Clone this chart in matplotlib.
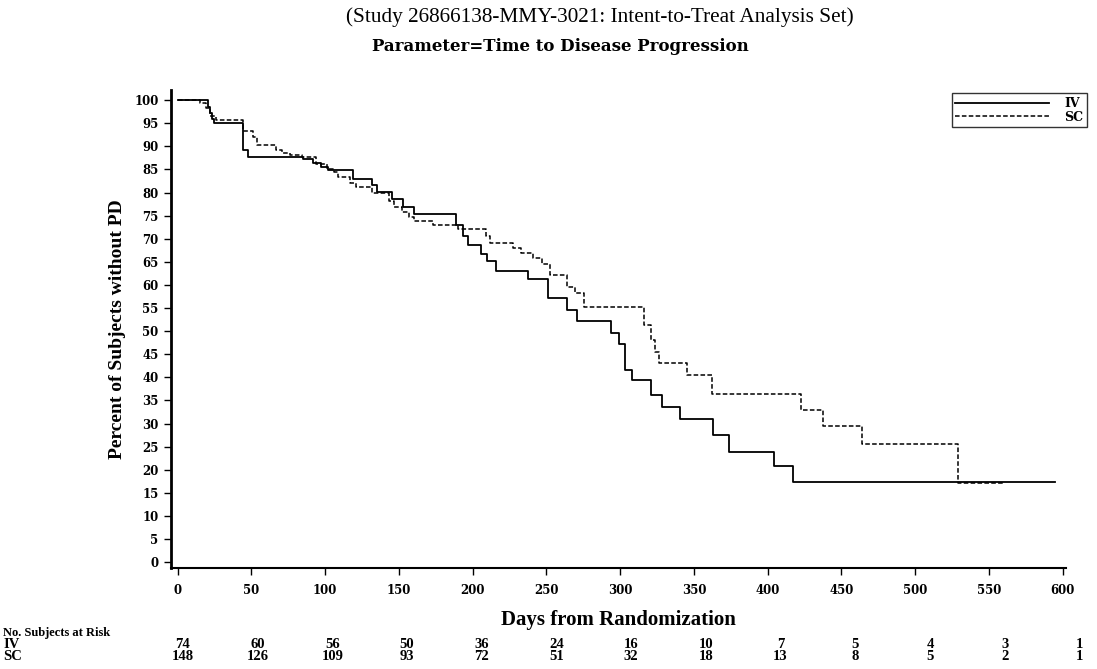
import matplotlib
matplotlib.use('Agg')
import matplotlib.pyplot as plt
import numpy as np

plt.rcParams['font.family'] = ['Liberation Serif', 'DejaVu Serif']
WIDE = ['DejaVu Serif']

# Kaplan-Meier step data (days, percent without PD)
iv_days = [0, 20.5, 22, 23, 24.4, 44, 48, 85, 92, 97, 102, 119, 132, 135, 145.5, 153,
           160.5, 188.7, 193.6, 197, 205.4, 209.5, 216, 237.7, 251, 263.7, 271, 293.5,
           299.4, 303, 308, 321, 328.5, 340.5, 363, 374, 404.5, 417.4, 595]
iv_pct = [100, 98.6, 97.3, 96, 95, 89.2, 87.6, 87.3, 86.4, 85.6, 84.8, 83.0, 81.6, 80.2,
          78.7, 76.9, 75.4, 72.9, 70.6, 68.6, 66.8, 65.2, 63.1, 61.2, 57.1, 54.5, 52.2,
          49.5, 47.3, 41.7, 39.4, 36.1, 33.6, 31.0, 27.5, 23.9, 20.8, 17.4, 17.4]

sc_days = [0, 15, 19, 22, 26, 44, 51, 54, 66.6, 70.5, 76, 84, 94, 101, 106, 109, 117, 121,
           131.5, 143, 147, 152, 157, 160, 173.3, 190, 209, 211.7, 227.5, 233, 241, 246.8,
           252.4, 263.7, 269.4, 275.5, 316, 321, 323.5, 326, 345, 362.5, 422.4, 437.3,
           464, 529, 561]
sc_pct = [100, 99.3, 98.2, 96.5, 95.8, 93.4, 92.1, 90.3, 89.3, 88.5, 88.1, 87.6, 86.1, 85.2,
          84.5, 83.4, 82.0, 81.1, 79.8, 78.2, 76.9, 75.8, 74.7, 73.9, 72.9, 72.2, 70.6, 69.1,
          68.1, 66.9, 65.9, 64.6, 62.1, 59.6, 58.2, 55.3, 51.3, 48.0, 45.5, 43.0, 40.5, 36.3,
          33.0, 29.4, 25.5, 17.2, 17.2]

risk_days = [0, 50, 100, 150, 200, 250, 300, 350, 400, 450, 500, 550, 600]
iv_risk = [74, 60, 56, 50, 36, 24, 16, 10, 7, 5, 4, 3, 1]
sc_risk = [148, 126, 109, 93, 72, 51, 32, 18, 13, 8, 5, 2, 1]

fig = plt.figure(figsize=(10.97, 6.69), dpi=100)
ax = fig.add_axes([0.1559, 0.1514, 0.8158, 0.7141])

ax.plot(iv_days, iv_pct, drawstyle='steps-post', color='black', lw=1.3, label='IV')
ax.plot(sc_days, sc_pct, drawstyle='steps-post', color='black', lw=1.1,
        linestyle=(0, (3, 1.5)), label='SC')

ax.set_xlim(-4.5, 602.2)
ax.set_ylim(-1.2, 102.2)
ax.set_xticks(range(0, 601, 50))
ax.set_yticks(range(0, 101, 5))
for lab in ax.get_xticklabels() + ax.get_yticklabels():
    lab.set_fontweight('bold')
    lab.set_fontsize(8.5)
    lab.set_family(WIDE)
ax.tick_params(axis='both', direction='out', length=5, width=1, pad=4)
ax.tick_params(axis='x', pad=7)
ax.spines['top'].set_visible(False)
ax.spines['right'].set_visible(False)
ax.spines['left'].set_linewidth(2)
ax.spines['bottom'].set_linewidth(1.5)

ax.set_ylabel('Percent of Subjects without PD', fontsize=14, fontweight='bold', labelpad=6)
ax.set_xlabel('Days from Randomization', fontsize=15, fontweight='bold', labelpad=9)

leg = ax.legend(loc='upper right', bbox_to_anchor=(1.0235, 0.993), borderaxespad=0,
                frameon=True, fancybox=False, edgecolor='black', handlelength=7.5,
                prop={'weight': 'bold', 'size': 9, 'family': WIDE},
                labelspacing=0.05, borderpad=0.3, handletextpad=1.2)
leg.get_frame().set_linewidth(1)

fig.text(0.547, 0.975, '(Study 26866138-MMY-3021: Intent-to-Treat Analysis Set)',
         ha='center', va='center', fontsize=15.3)
fig.text(0.511, 0.931, 'Parameter=Time to Disease Progression', ha='center', va='center',
         fontsize=12, fontweight='bold', family=WIDE)

# at-risk table
fig.text(0.003, 0.054, 'No. Subjects at Risk', fontsize=9, fontweight='bold', va='center')
fig.text(0.003, 0.037, 'IV', fontsize=10.5, fontweight='bold', va='center')
fig.text(0.003, 0.019, 'SC', fontsize=10.5, fontweight='bold', va='center')
for d, a, b in zip(risk_days, iv_risk, sc_risk):
    xd = d * 1.0128 + 3.6
    xf = fig.transFigure.inverted().transform(ax.transData.transform((xd, 0)))[0]
    fig.text(xf, 0.037, str(a), ha='center', va='center', fontsize=10.5, fontweight='bold')
    fig.text(xf, 0.019, str(b), ha='center', va='center', fontsize=10.5, fontweight='bold')

fig.savefig('out.png', dpi=100)
